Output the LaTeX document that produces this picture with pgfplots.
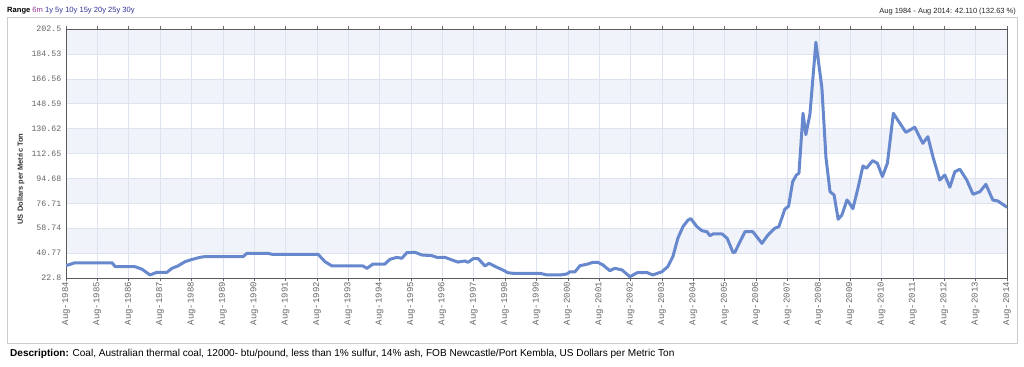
\documentclass[border=0pt]{standalone}
\usepackage{fontspec}
\setmainfont{Liberation Sans}
\newfontfamily\monofont{Liberation Mono}
\usepackage{pgfplots}
\pgfplotsset{compat=1.18}
\definecolor{linec}{HTML}{6888CE}
\definecolor{bandc}{HTML}{F1F3FA}
\definecolor{gridc}{HTML}{DDE3EF}
\definecolor{tickc}{HTML}{666666}
\definecolor{framec}{HTML}{CCCCCC}
\definecolor{linkA}{HTML}{993399}
\definecolor{linkB}{HTML}{333399}
\pgfplotstableread{
x y
1984.583 31.75
1984.87 33.8
1986.05 33.8
1986.15 31.0
1986.78 31.0
1987.01 29.1
1987.26 25.0
1987.48 26.9
1987.80 26.9
1987.96 29.8
1988.15 31.5
1988.38 34.6
1988.54 35.8
1988.85 37.7
1989.0 38.2
1990.23 38.2
1990.35 40.6
1991.02 40.6
1991.15 39.9
1992.62 39.9
1992.84 34.6
1993.06 31.5
1994.05 31.5
1994.18 29.8
1994.37 32.9
1994.75 32.9
1994.91 36.3
1995.13 37.7
1995.29 37.0
1995.45 41.1
1995.71 41.3
1995.93 39.4
1996.25 38.9
1996.41 37.7
1996.67 37.7
1996.89 35.8
1997.08 34.3
1997.30 35.1
1997.40 34.1
1997.56 36.7
1997.72 36.9
1997.94 31.5
1998.07 33.4
1998.32 30.5
1998.51 28.6
1998.67 26.6
1998.83 26.2
1999.69 26.2
1999.92 25.0
2000.33 25.0
2000.55 25.7
2000.65 27.3
2000.81 27.3
2000.97 31.7
2001.19 32.7
2001.38 34.1
2001.54 34.1
2001.70 32.2
2001.92 28.1
2002.08 29.8
2002.31 28.6
2002.56 23.7
2002.79 26.6
2003.10 26.8
2003.29 25.0
2003.58 27.3
2003.77 31.0
2003.93 38.2
2004.09 51.5
2004.25 59.8
2004.41 64.5
2004.50 65.7
2004.70 59.8
2004.86 56.9
2005.02 56.2
2005.11 53.3
2005.21 54.6
2005.50 54.6
2005.66 51.5
2005.85 41.1
2005.91 41.5
2006.07 49.0
2006.23 56.2
2006.48 56.2
2006.77 47.8
2006.96 53.8
2007.18 58.7
2007.31 59.8
2007.50 72.5
2007.62 74.6
2007.75 92.3
2007.87 97.1
2007.95 98.4
2008.08 141.7
2008.17 126.2
2008.30 141.0
2008.49 193.0
2008.68 160.5
2008.81 110.0
2008.94 85.1
2009.07 82.7
2009.20 65.2
2009.32 68.3
2009.48 79.1
2009.54 77.5
2009.67 72.8
2009.83 87.5
2009.99 103.7
2010.10 102.0
2010.30 107.5
2010.45 105.6
2010.61 96.0
2010.77 105.6
2010.96 141.7
2011.10 136.8
2011.36 127.9
2011.64 131.6
2011.90 120.0
2012.06 124.8
2012.22 110.4
2012.44 93.5
2012.60 97.1
2012.76 88.3
2012.92 99.5
2013.08 101.3
2013.30 93.5
2013.50 83.2
2013.72 85.1
2013.91 90.4
2014.13 79.1
2014.29 78.4
2014.583 73.86
}\coaldata
\begin{document}
\begin{tikzpicture}
\path[use as bounding box] (0,0) rectangle (1024bp,-367bp);
\fill[white] (0,0) rectangle (1024bp,-367bp);
\draw[framec, line width=0.8bp] (7bp,-17bp) rectangle (1017bp,-343bp);
% alternating background bands of the plot area
\fill[bandc] (66bp,-253.1bp) rectangle (1007bp,-228.2bp);
\fill[bandc] (66bp,-203.3bp) rectangle (1007bp,-178.4bp);
\fill[bandc] (66bp,-153.5bp) rectangle (1007bp,-128.6bp);
\fill[bandc] (66bp,-103.7bp) rectangle (1007bp,-78.8bp);
\fill[bandc] (66bp,-53.9bp) rectangle (1007bp,-29bp);
\node[anchor=base west, inner sep=0pt, font=\fontsize{7.6}{9}\selectfont] at (7bp,-12bp)
  {\textbf{Range} \textcolor{linkA}{6m} \textcolor{linkB}{1y 5y 10y 15y 20y 25y 30y}};
\node[anchor=base east, inner sep=0pt, font=\fontsize{7.5}{9}\selectfont, text=black!85] at (1016bp,-13.5bp)
  {Aug 1984 - Aug 2014: 42.110 (132.63 \%)};
\node[anchor=center, rotate=90, inner sep=0pt, font=\bfseries\fontsize{7.5}{9}\selectfont, text=black!80] at (21bp,-179bp)
  {US Dollars per Metric Ton};
\node[anchor=base west, inner sep=0pt, font=\fontsize{10.1}{12}\selectfont] at (10bp,-356bp)
  {\textbf{Description:} Coal, Australian thermal coal, 12000- btu/pound, less than 1\% sulfur, 14\% ash, FOB Newcastle/Port Kembla, US Dollars per Metric Ton};
\begin{axis}[
  at={(66bp,-278bp)}, anchor=south west,
  scale only axis, width=941bp, height=249bp,
  xmin=1984.583, xmax=2014.583,
  ymin=22.8, ymax=202.5,
  xtick={1984.583,1985.583,1986.583,1987.583,1988.583,1989.583,1990.583,1991.583,1992.583,1993.583,1994.583,1995.583,1996.583,1997.583,1998.583,1999.583,2000.583,2001.583,2002.583,2003.583,2004.583,2005.583,2006.583,2007.583,2008.583,2009.583,2010.583,2011.583,2012.583,2013.583,2014.583},
  xticklabels={Aug-1984,Aug-1985,Aug-1986,Aug-1987,Aug-1988,Aug-1989,Aug-1990,Aug-1991,Aug-1992,Aug-1993,Aug-1994,Aug-1995,Aug-1996,Aug-1997,Aug-1998,Aug-1999,Aug-2000,Aug-2001,Aug-2002,Aug-2003,Aug-2004,Aug-2005,Aug-2006,Aug-2007,Aug-2008,Aug-2009,Aug-2010,Aug-2011,Aug-2012,Aug-2013,Aug-2014},
  ytick={22.8,40.77,58.74,76.71,94.68,112.65,130.62,148.59,166.56,184.53,202.5},
  yticklabels={22.8,40.77,58.74,76.71,94.68,112.65,130.62,148.59,166.56,184.53,202.5},
  xticklabel style={rotate=90, anchor=east, font=\monofont\fontsize{9}{10}\selectfont, text=tickc, inner sep=1bp},
  yticklabel style={font=\monofont\fontsize{8.3}{9}\selectfont, text=tickc, inner sep=1.5bp},
  tick align=outside,
  xtick style={draw=tickc, line width=0.6bp},
  major tick length=3bp,
  ytick style={draw=none},
  grid=major,
  major grid style={draw=gridc, line width=0.6bp},
  axis line style={draw=black!65, line width=1bp},
]
\addplot[linec, line width=3bp, line join=round, line cap=round] table[x=x,y=y] {\coaldata};
\end{axis}
\end{tikzpicture}
\end{document}
